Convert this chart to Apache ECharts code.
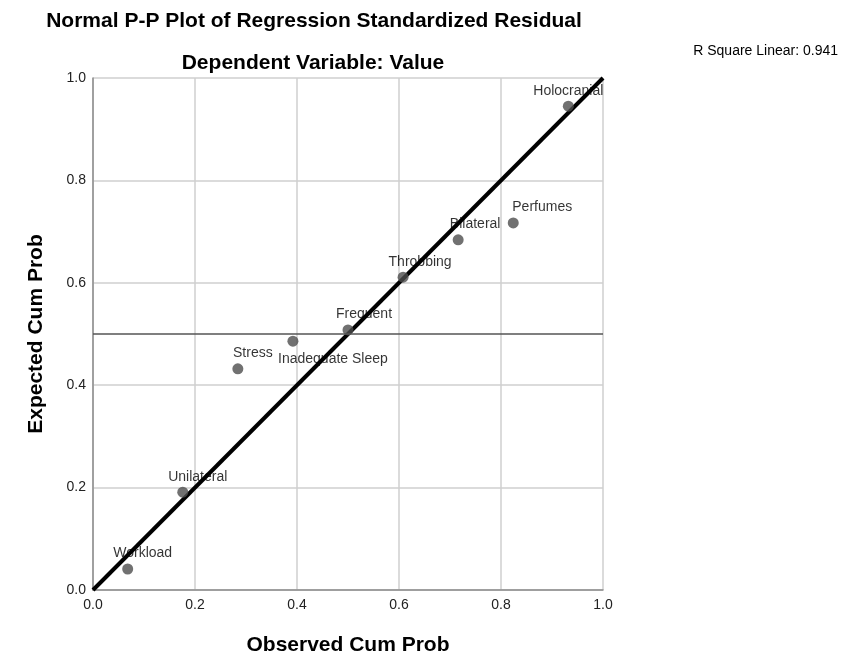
<!DOCTYPE html>
<html>
<head>
<meta charset="utf-8">
<script src="https://cdn.jsdelivr.net/npm/echarts@6/dist/echarts.min.js"></script>
<style>html,body{margin:0;padding:0;background:#fff}#c{width:845px;height:659px}</style>
</head>
<body>
<div id="c"></div>
<script>
var names = ["Workload","Unilateral","Stress","Inadequate Sleep","Frequent","Throbbing","Bilateral","Perfumes","Holocranial"];
var observed = [0.068,0.176,0.284,0.392,0.500,0.608,0.716,0.824,0.932];
var expected = [0.041,0.191,0.432,0.486,0.508,0.611,0.684,0.717,0.945];
var fitLine = [[0,0],[1,1]];
var refLevel = 0.5;
var ticks = [0,0.2,0.4,0.6,0.8,1.0];
var rSquare = "R Square Linear: 0.941";

// label placement (style only)
var labelOffsets = [[15,0],[15,0],[15,0],[40,33],[16,0],[17,0],[17,0],[29,0],[0,0]];

var font = "'Liberation Sans', Arial, sans-serif";
var pts = names.map(function(n,i){
  return {
    value:[observed[i],expected[i]], name:n,
    label:{offset:labelOffsets[i]}
  };
});

var chart = echarts.init(document.getElementById('c'));
chart.setOption({
  animation:false,
  textStyle:{fontFamily:font},
  title:[
    {text:"Normal P-P Plot of Regression Standardized Residual", left:309, top:6, textAlign:'center',
     textStyle:{fontFamily:font,fontSize:21,fontWeight:'bold',color:'#000'}},
    {text:"Dependent Variable: Value", left:308, top:48, textAlign:'center',
     textStyle:{fontFamily:font,fontSize:21,fontWeight:'bold',color:'#000'}},
    {text:rSquare, right:2, top:39,
     textStyle:{fontFamily:font,fontSize:14,fontWeight:'normal',color:'#000'}}
  ],
  grid:{left:93,right:242,top:78,bottom:69,containLabel:false,outerBoundsMode:'none'},
  xAxis:{
    type:'value',min:0,max:1,interval:0.2,
    name:"Observed Cum Prob",nameLocation:'middle',nameGap:45,
    nameTextStyle:{fontFamily:font,fontSize:21,fontWeight:'bold',color:'#000'},
    axisLine:{show:true,lineStyle:{color:'#8c8c8c',width:1.5}},
    axisTick:{show:false},
    axisLabel:{color:'#222',fontSize:14,fontFamily:font,margin:8,formatter:function(v){return v.toFixed(1);}},
    splitLine:{show:true,lineStyle:{color:'#cfcfcf',width:1.5}}
  },
  yAxis:{
    type:'value',min:0,max:1,interval:0.2,
    name:"Expected Cum Prob",nameLocation:'middle',nameGap:46,
    nameTextStyle:{fontFamily:font,fontSize:21,fontWeight:'bold',color:'#000'},
    axisLine:{show:true,lineStyle:{color:'#8c8c8c',width:1.5}},
    axisTick:{show:false},
    axisLabel:{color:'#222',fontSize:14,fontFamily:font,margin:7,formatter:function(v){return v.toFixed(1);}},
    splitLine:{show:true,lineStyle:{color:'#cfcfcf',width:1.5}}
  },
  series:[
    {
      type:'line',data:fitLine,showSymbol:false,symbol:'none',silent:true,clip:false,
      lineStyle:{color:'#000',width:4},z:3,
      markLine:{silent:true,symbol:'none',label:{show:false},
        lineStyle:{color:'#555',width:1.5,type:'solid'},
        data:[{yAxis:refLevel}]}
    },
    {
      type:'scatter',data:pts,symbol:'circle',symbolSize:11,z:4,
      itemStyle:{color:'#4d4d4d'},
      label:{show:true,position:'top',distance:3,formatter:function(p){return p.name;},
        color:'#000',fontSize:14,fontFamily:font}
    }
  ]
});
</script>
</body>
</html>
